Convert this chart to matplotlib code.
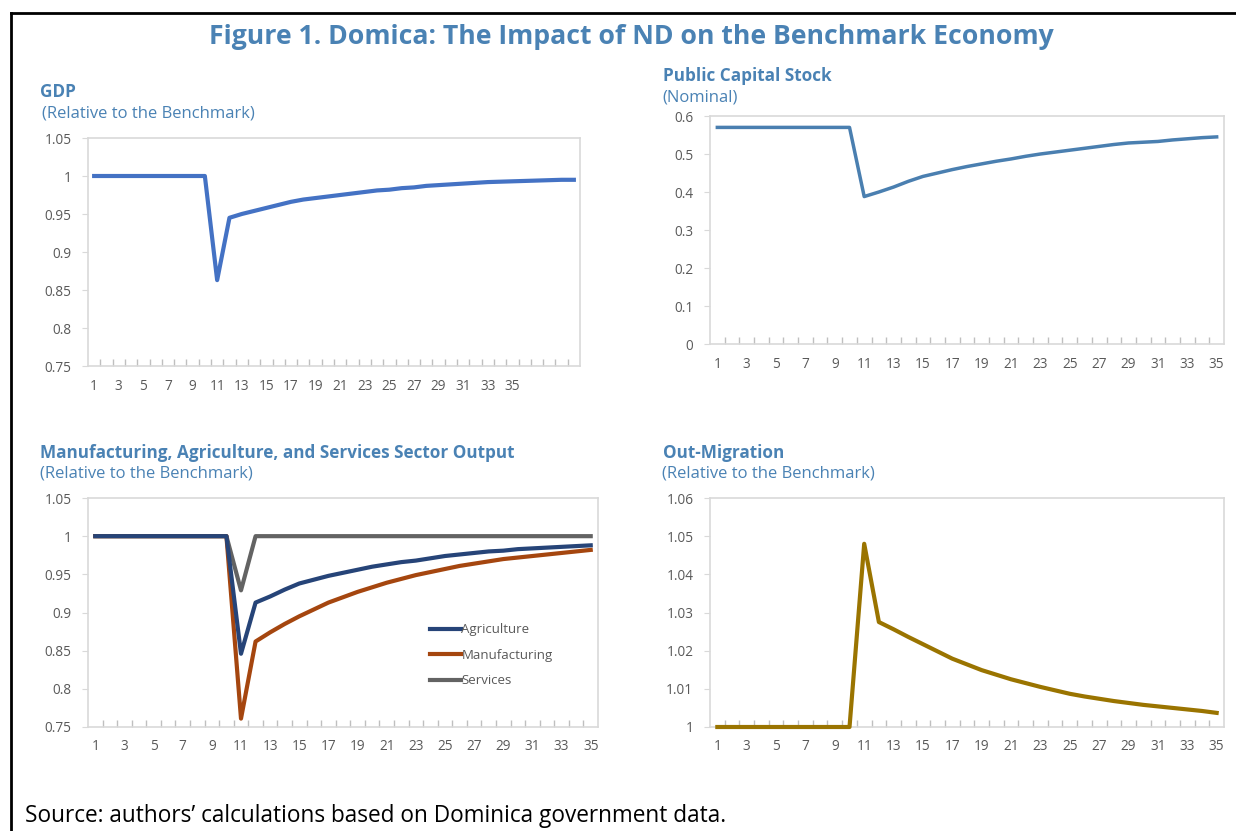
import matplotlib
matplotlib.use('Agg')
import matplotlib.pyplot as plt
from matplotlib.lines import Line2D

# ---------------------------------------------------------------------------
# DATA
# ---------------------------------------------------------------------------
gdp = [1.0] * 10 + [0.863, 0.945, 0.950, 0.954, 0.958, 0.962, 0.966, 0.969,
                    0.971, 0.973, 0.975, 0.977, 0.979, 0.981, 0.982, 0.984,
                    0.985, 0.987, 0.988, 0.989, 0.990, 0.991, 0.992, 0.9925,
                    0.993, 0.9935, 0.994, 0.9945, 0.995, 0.995]

public_capital = [0.57] * 10 + [0.388, 0.400, 0.413, 0.428, 0.441, 0.450,
                                0.459, 0.467, 0.474, 0.481, 0.487, 0.494,
                                0.500, 0.505, 0.510, 0.515, 0.520, 0.525,
                                0.529, 0.531, 0.533, 0.537, 0.540, 0.543,
                                0.545]

agriculture = [1.0] * 10 + [0.846, 0.913, 0.921, 0.930, 0.938, 0.943, 0.948,
                            0.952, 0.956, 0.960, 0.963, 0.966, 0.968, 0.971,
                            0.974, 0.976, 0.978, 0.980, 0.981, 0.983, 0.984,
                            0.985, 0.986, 0.987, 0.988]

manufacturing = [1.0] * 10 + [0.761, 0.862, 0.874, 0.885, 0.895, 0.904,
                              0.913, 0.920, 0.927, 0.933, 0.939, 0.944,
                              0.949, 0.953, 0.957, 0.961, 0.964, 0.967,
                              0.970, 0.972, 0.974, 0.976, 0.978, 0.980,
                              0.982]

services = [1.0] * 10 + [0.929] + [1.0] * 24

out_migration = [1.0] * 10 + [1.048, 1.0275, 1.0256, 1.0236, 1.0217, 1.0198,
                              1.0179, 1.0164, 1.0149, 1.0137, 1.0125, 1.0115,
                              1.0105, 1.0096, 1.0087, 1.0080, 1.0074, 1.0068,
                              1.0063, 1.0058, 1.0054, 1.0050, 1.0046, 1.0042,
                              1.0037]

x_labels = [str(i) for i in range(1, 36, 2)]   # odd periods 1..35

# ---------------------------------------------------------------------------
# STYLE
# ---------------------------------------------------------------------------
plt.rcParams['font.family'] = ['Open Sans', 'DejaVu Sans']

W, H = 1236, 831
TITLE_C = '#4a82b4'
TICK_C  = '#595959'
GRID_C  = '#d9d9d9'
HEAD_FS = 12.3
SUB_FS  = 12

fig = plt.figure(figsize=(W / 100, H / 100), dpi=100)


def px_axes(l, t, r, b):
    return fig.add_axes([l / W, 1 - b / H, (r - l) / W, (b - t) / H])


def fig_text(x, y, s, **kw):
    fig.text(x / W, 1 - y / H, s, **kw)


def style_axes(ax, n, yticks, ylabels):
    ax.set_xlim(0.5, n + 0.5)
    ax.set_ylim(yticks[0], yticks[-1])
    for sp in ax.spines.values():
        sp.set_color(GRID_C)
        sp.set_linewidth(1.2)
    ax.set_xticks(range(1, 36, 2))
    ax.set_xticklabels(x_labels)
    ax.set_xticks([k + 0.5 for k in range(1, n)], minor=True)
    ax.tick_params(axis='x', which='major', length=0, pad=9,
                   labelsize=9.8, labelcolor=TICK_C)
    ax.tick_params(axis='x', which='minor', direction='in', length=5,
                   color='#bfbfbf', width=1)
    ax.set_yticks(yticks)
    ax.set_yticklabels(ylabels)
    ax.tick_params(axis='y', length=4, color=GRID_C, pad=8,
                   labelsize=9.8, labelcolor=TICK_C)


# ── Outer frame ────────────────────────────────────────────────────────────
fig.add_artist(Line2D([11 / W, 11 / W], [0, 1 - 13 / H], color='black',
                      lw=2, transform=fig.transFigure))
fig.add_artist(Line2D([11 / W, 1], [1 - 13 / H, 1 - 13 / H], color='black',
                      lw=2, transform=fig.transFigure))

fig_text(631, 37, 'Figure 1. Domica: The Impact of ND on the Benchmark Economy',
         ha='center', va='center', fontsize=19.2, fontweight='bold',
         color=TITLE_C)

# ── GDP ────────────────────────────────────────────────────────────────────
ax1 = px_axes(88, 138, 580, 366)
ax1.plot(range(1, len(gdp) + 1), gdp, color='#4472c4', lw=3)
yt = [0.75, 0.8, 0.85, 0.9, 0.95, 1.0, 1.05]
style_axes(ax1, len(gdp), yt, ['0.75', '0.8', '0.85', '0.9', '0.95', '1', '1.05'])
fig_text(40, 92, 'GDP', fontsize=HEAD_FS, fontweight='bold', color=TITLE_C, va='center')
fig_text(42, 114, '(Relative to the Benchmark)', fontsize=SUB_FS, color=TITLE_C, va='center')

# ── Public capital stock ──────────────────────────────────────────────────
ax2 = px_axes(710, 116, 1224, 344)
ax2.plot(range(1, len(public_capital) + 1), public_capital, color='#4a7fb0', lw=2.5)
yt = [0, 0.1, 0.2, 0.3, 0.4, 0.5, 0.6]
style_axes(ax2, len(public_capital), yt, ['0', '0.1', '0.2', '0.3', '0.4', '0.5', '0.6'])
fig_text(663, 76, 'Public Capital Stock', fontsize=HEAD_FS, fontweight='bold', color=TITLE_C, va='center')
fig_text(662, 98, '(Nominal)', fontsize=SUB_FS, color=TITLE_C, va='center')

# ── Sector output ─────────────────────────────────────────────────────────
ax3 = px_axes(88, 498, 598, 727)
xs = range(1, len(agriculture) + 1)
ax3.plot(xs, services, color='#636363', lw=3, label='Services')
ax3.plot(xs, manufacturing, color='#a5460f', lw=3, label='Manufacturing')
ax3.plot(xs, agriculture, color='#264478', lw=3, label='Agriculture')
yt = [0.75, 0.8, 0.85, 0.9, 0.95, 1.0, 1.05]
style_axes(ax3, len(agriculture), yt, ['0.75', '0.8', '0.85', '0.9', '0.95', '1', '1.05'])
h, l = ax3.get_legend_handles_labels()
ax3.legend(h[::-1], l[::-1], loc='upper left', bbox_to_anchor=(0.648, 0.505),
           frameon=False, fontsize=9.5, handlelength=2.3, handletextpad=0.05,
           labelspacing=0.95, labelcolor=TICK_C)
fig_text(40, 453, 'Manufacturing, Agriculture, and Services Sector Output',
         fontsize=HEAD_FS, fontweight='bold', color=TITLE_C, va='center')
fig_text(40, 474, '(Relative to the Benchmark)', fontsize=SUB_FS, color=TITLE_C, va='center')

# ── Out-migration ─────────────────────────────────────────────────────────
ax4 = px_axes(710, 498, 1224, 727)
ax4.plot(range(1, len(out_migration) + 1), out_migration, color='#9a7400',
         lw=3, clip_on=False, zorder=5)
yt = [1.0, 1.01, 1.02, 1.03, 1.04, 1.05, 1.06]
style_axes(ax4, len(out_migration), yt, ['1', '1.01', '1.02', '1.03', '1.04', '1.05', '1.06'])
fig_text(663, 453, 'Out-Migration', fontsize=HEAD_FS, fontweight='bold', color=TITLE_C, va='center')
fig_text(662, 474, '(Relative to the Benchmark)', fontsize=SUB_FS, color=TITLE_C, va='center')

# ── Source note ───────────────────────────────────────────────────────────
fig_text(25, 816, 'Source: authors\u2019 calculations based on Dominica government data.',
         fontsize=16.3, color='black', va='center')

fig.savefig('out.png', dpi=100)
